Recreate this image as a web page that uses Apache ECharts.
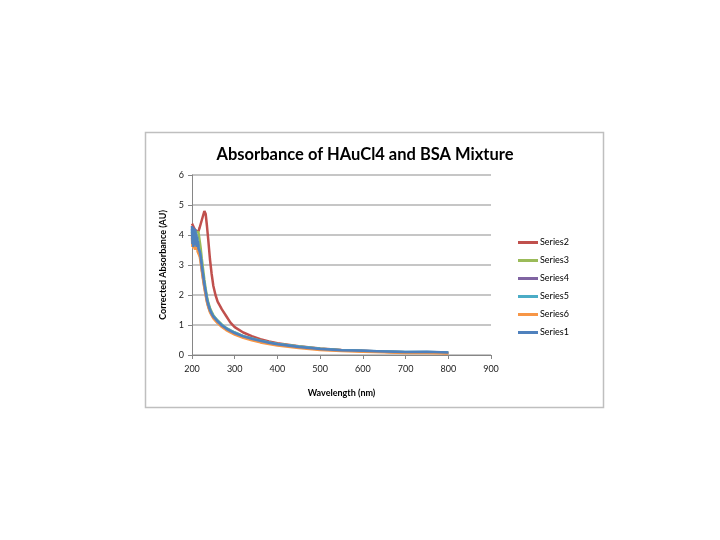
<!DOCTYPE html>
<html>
<head>
<meta charset="utf-8">
<script src="https://cdn.jsdelivr.net/npm/echarts@6/dist/echarts.min.js"></script>
<style>
  html, body { margin: 0; padding: 0; background: #fff; }
  #chart { width: 720px; height: 540px; }
</style>
</head>
<body>
<div id="chart"></div>
<script>
// wavelength (nm), shared by all series
var wavelength = [200, 201, 202, 203, 204, 205, 206, 207, 208, 209, 210, 211, 212, 213, 214, 215,
  218, 220, 223, 226, 229, 232, 235, 238, 242, 246, 250, 255, 260, 270, 280, 290, 300,
  320, 340, 360, 380, 400, 450, 500, 550, 600, 650, 700, 750, 800];

var series2 = [4.38, 4.35, 4.32, 4.29, 4.26, 4.23, 4.20, 4.17, 4.15, 4.13, 4.12, 4.11, 4.10, 4.10, 4.10, 4.12,
  4.25, 4.35, 4.50, 4.65, 4.80, 4.70, 4.30, 3.85, 3.20, 2.70, 2.30, 2.00, 1.78, 1.52, 1.30, 1.08, 0.93,
  0.75, 0.63, 0.53, 0.45, 0.39, 0.29, 0.22, 0.17, 0.14, 0.11, 0.09, 0.09, 0.07];
var series3 = [4.10, 3.90, 4.05, 3.85, 4.00, 3.90, 4.00, 3.95, 4.05, 4.00, 4.10, 4.05, 4.10, 4.12, 4.15, 4.10,
  3.80, 3.60, 3.20, 2.85, 2.50, 2.20, 1.95, 1.75, 1.57, 1.44, 1.33, 1.23, 1.15, 1.01, 0.90, 0.82, 0.75,
  0.63, 0.55, 0.48, 0.42, 0.37, 0.28, 0.21, 0.16, 0.13, 0.11, 0.09, 0.09, 0.07];
var series4 = [4.00, 3.75, 4.05, 3.70, 4.00, 3.75, 3.95, 3.70, 3.90, 3.70, 3.85, 3.65, 3.80, 3.60, 3.70, 3.55,
  3.35, 3.20, 2.85, 2.55, 2.27, 2.03, 1.80, 1.63, 1.46, 1.35, 1.25, 1.17, 1.09, 0.96, 0.86, 0.78, 0.71,
  0.60, 0.52, 0.45, 0.40, 0.35, 0.26, 0.19, 0.15, 0.13, 0.11, 0.09, 0.09, 0.07];
var series5 = [4.20, 3.80, 4.10, 3.70, 4.15, 3.75, 4.05, 3.70, 4.10, 3.75, 4.00, 3.65, 3.90, 3.65, 3.75, 3.60,
  3.48, 3.33, 2.98, 2.68, 2.38, 2.13, 1.88, 1.70, 1.52, 1.40, 1.30, 1.22, 1.14, 1.00, 0.90, 0.82, 0.75,
  0.63, 0.55, 0.48, 0.42, 0.37, 0.28, 0.21, 0.16, 0.14, 0.12, 0.10, 0.10, 0.08];
var series6 = [3.90, 3.60, 3.95, 3.55, 3.85, 3.60, 3.80, 3.50, 3.70, 3.55, 3.65, 3.50, 3.60, 3.45, 3.50, 3.40,
  3.28, 3.12, 2.80, 2.50, 2.22, 1.98, 1.76, 1.60, 1.43, 1.32, 1.22, 1.14, 1.06, 0.93, 0.83, 0.75, 0.68,
  0.57, 0.49, 0.42, 0.37, 0.32, 0.23, 0.17, 0.13, 0.11, 0.09, 0.07, 0.07, 0.05];
var series1 = [4.30, 3.70, 4.20, 3.60, 4.25, 3.70, 4.15, 3.65, 4.20, 3.75, 4.05, 3.60, 3.95, 3.65, 3.80, 3.55,
  3.45, 3.30, 2.95, 2.65, 2.35, 2.10, 1.85, 1.68, 1.50, 1.38, 1.28, 1.20, 1.12, 0.98, 0.88, 0.80, 0.73,
  0.62, 0.54, 0.47, 0.41, 0.36, 0.27, 0.20, 0.16, 0.14, 0.12, 0.10, 0.11, 0.08];

var seriesNames = ['Series2', 'Series3', 'Series4', 'Series5', 'Series6', 'Series1'];
var seriesValues = [series2, series3, series4, series5, series6, series1];
var seriesColors = ['#c0504d', '#9bbb59', '#8064a2', '#4bacc6', '#f79646', '#4f81bd'];

var font = 'Lato, "Open Sans", sans-serif';

function pairs(values) {
  var out = [];
  for (var i = 0; i < values.length; i++) {
    out.push([wavelength[i], values[i]]);
  }
  return out;
}

var chart = echarts.init(document.getElementById('chart'), null, { renderer: 'canvas' });

var series = [];
for (var i = 0; i < seriesNames.length; i++) {
  series.push({
    name: seriesNames[i],
    type: 'line',
    data: pairs(seriesValues[i]),
    symbol: 'none',
    lineStyle: { color: seriesColors[i], width: 2.5 },
    itemStyle: { color: seriesColors[i] }
  });
}

chart.setOption({
  animation: false,
  backgroundColor: '#fff',
  title: {
    text: 'Absorbance of HAuCl4 and BSA Mixture',
    left: 360,
    textAlign: 'center',
    top: 141,
    textStyle: { fontFamily: font, fontSize: 16.5, fontWeight: 'bold', color: '#000' }
  },
  graphic: [{
    type: 'rect',
    shape: { x: 145.5, y: 132.5, width: 458, height: 275 },
    style: { fill: 'none', stroke: '#bfbfbf', lineWidth: 1.5 },
    silent: true
  }],
  legend: {
    orient: 'vertical',
    left: 513,
    top: 232,
    itemWidth: 20,
    itemHeight: 3,
    itemGap: 7,
    icon: 'rect',
    data: seriesNames,
    textStyle: { fontFamily: font, fontSize: 9, color: '#000', lineHeight: 11, padding: [0, 0, 0, -3] }
  },
  grid: { left: 192, top: 175, width: 299, height: 180 },
  xAxis: {
    type: 'value',
    min: 200,
    max: 900,
    interval: 100,
    name: 'Wavelength (nm)',
    nameLocation: 'middle',
    nameGap: 34,
    nameTextStyle: { fontFamily: font, fontSize: 9, fontWeight: 'bold', color: '#000' },
    axisLine: { lineStyle: { color: '#868686', width: 1 } },
    axisTick: { show: true, length: 4, lineStyle: { color: '#868686' } },
    axisLabel: { fontFamily: font, fontSize: 9, color: '#222', margin: 10 },
    splitLine: { show: false }
  },
  yAxis: {
    type: 'value',
    min: 0,
    max: 6,
    interval: 1,
    name: 'Corrected Absorbance (AU)',
    nameLocation: 'middle',
    nameGap: 24,
    nameTextStyle: { fontFamily: font, fontSize: 9, fontWeight: 'bold', color: '#000' },
    axisLine: { show: true, lineStyle: { color: '#868686', width: 1 } },
    axisTick: { show: true, length: 4, lineStyle: { color: '#868686' } },
    axisLabel: { fontFamily: font, fontSize: 9, color: '#222', margin: 8 },
    splitLine: { show: true, lineStyle: { color: '#b3b3b3', width: 1.5 } }
  },
  series: series
});
</script>
</body>
</html>
